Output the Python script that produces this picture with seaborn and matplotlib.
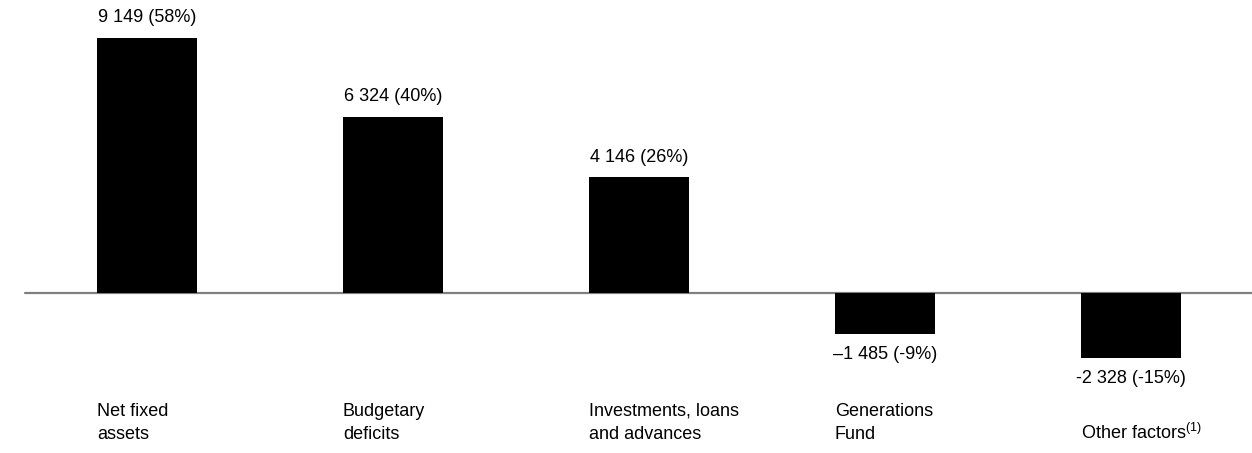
import numpy as np
import pandas as pd
import matplotlib
matplotlib.use("Agg")
import matplotlib.pyplot as plt
import matplotlib.transforms as mtransforms
import seaborn as sns

# data
categories = ["Net fixed\nassets", "Budgetary\ndeficits", "Investments, loans\nand advances",
              "Generations\nFund", "Other factors$^{\\mathrm{(1)}}$"]
values = [9149, 6324, 4146, -1485, -2328]
value_labels = ["9 149 (58%)", "6 324 (40%)", "4 146 (26%)", "\u20131 485 (-9%)", "-2 328 (-15%)"]

sns.set_style("white")
plt.rcParams["font.family"] = ["Liberation Sans", "DejaVu Sans"]
plt.rcParams["mathtext.fontset"] = "custom"
plt.rcParams["mathtext.rm"] = "Liberation Sans"

W, H = 1252, 453
fig = plt.figure(figsize=(W / 100, H / 100), dpi=100)
ax = fig.add_axes([0, 0, 1, 1])

df = pd.DataFrame({"cat": range(len(values)), "value": values})

# pixel layout: bar centres every 246 px starting at 147, zero line at 293, top of first bar at 38
step, first = 246.0, 147.0
bar_w = 100.0 / step
sns.barplot(data=df, x="cat", y="value", color="black", width=bar_w,
            saturation=1, linewidth=0, edgecolor="black", ax=ax, zorder=3)

scale = (293 - 38) / values[0]      # px per unit
ax.set_ylim(-(H - 293) / scale, 293 / scale)
ax.set_xlim(-first / step, (W - first) / step)

ax.axhline(0, xmin=25 / W, xmax=1, color="#808080", lw=1.6, zorder=2)

fs = 13
for i, (v, lab) in enumerate(zip(values, value_labels)):
    off = 14.5 if v > 0 else -14.5
    ax.annotate(lab, (i, v), xytext=(0, off), textcoords="offset points",
                ha="center", va="center", fontsize=fs, color="black")

trans = mtransforms.blended_transform_factory(ax.transData, fig.transFigure)
for i, cat in enumerate(categories):
    ax.text(i - bar_w / 2, 1 - 443 / H, cat, transform=trans, ha="left", va="bottom",
            fontsize=fs, linespacing=1.5, color="black")

ax.set_axis_off()
fig.savefig("out.png", dpi=100, facecolor="white")
